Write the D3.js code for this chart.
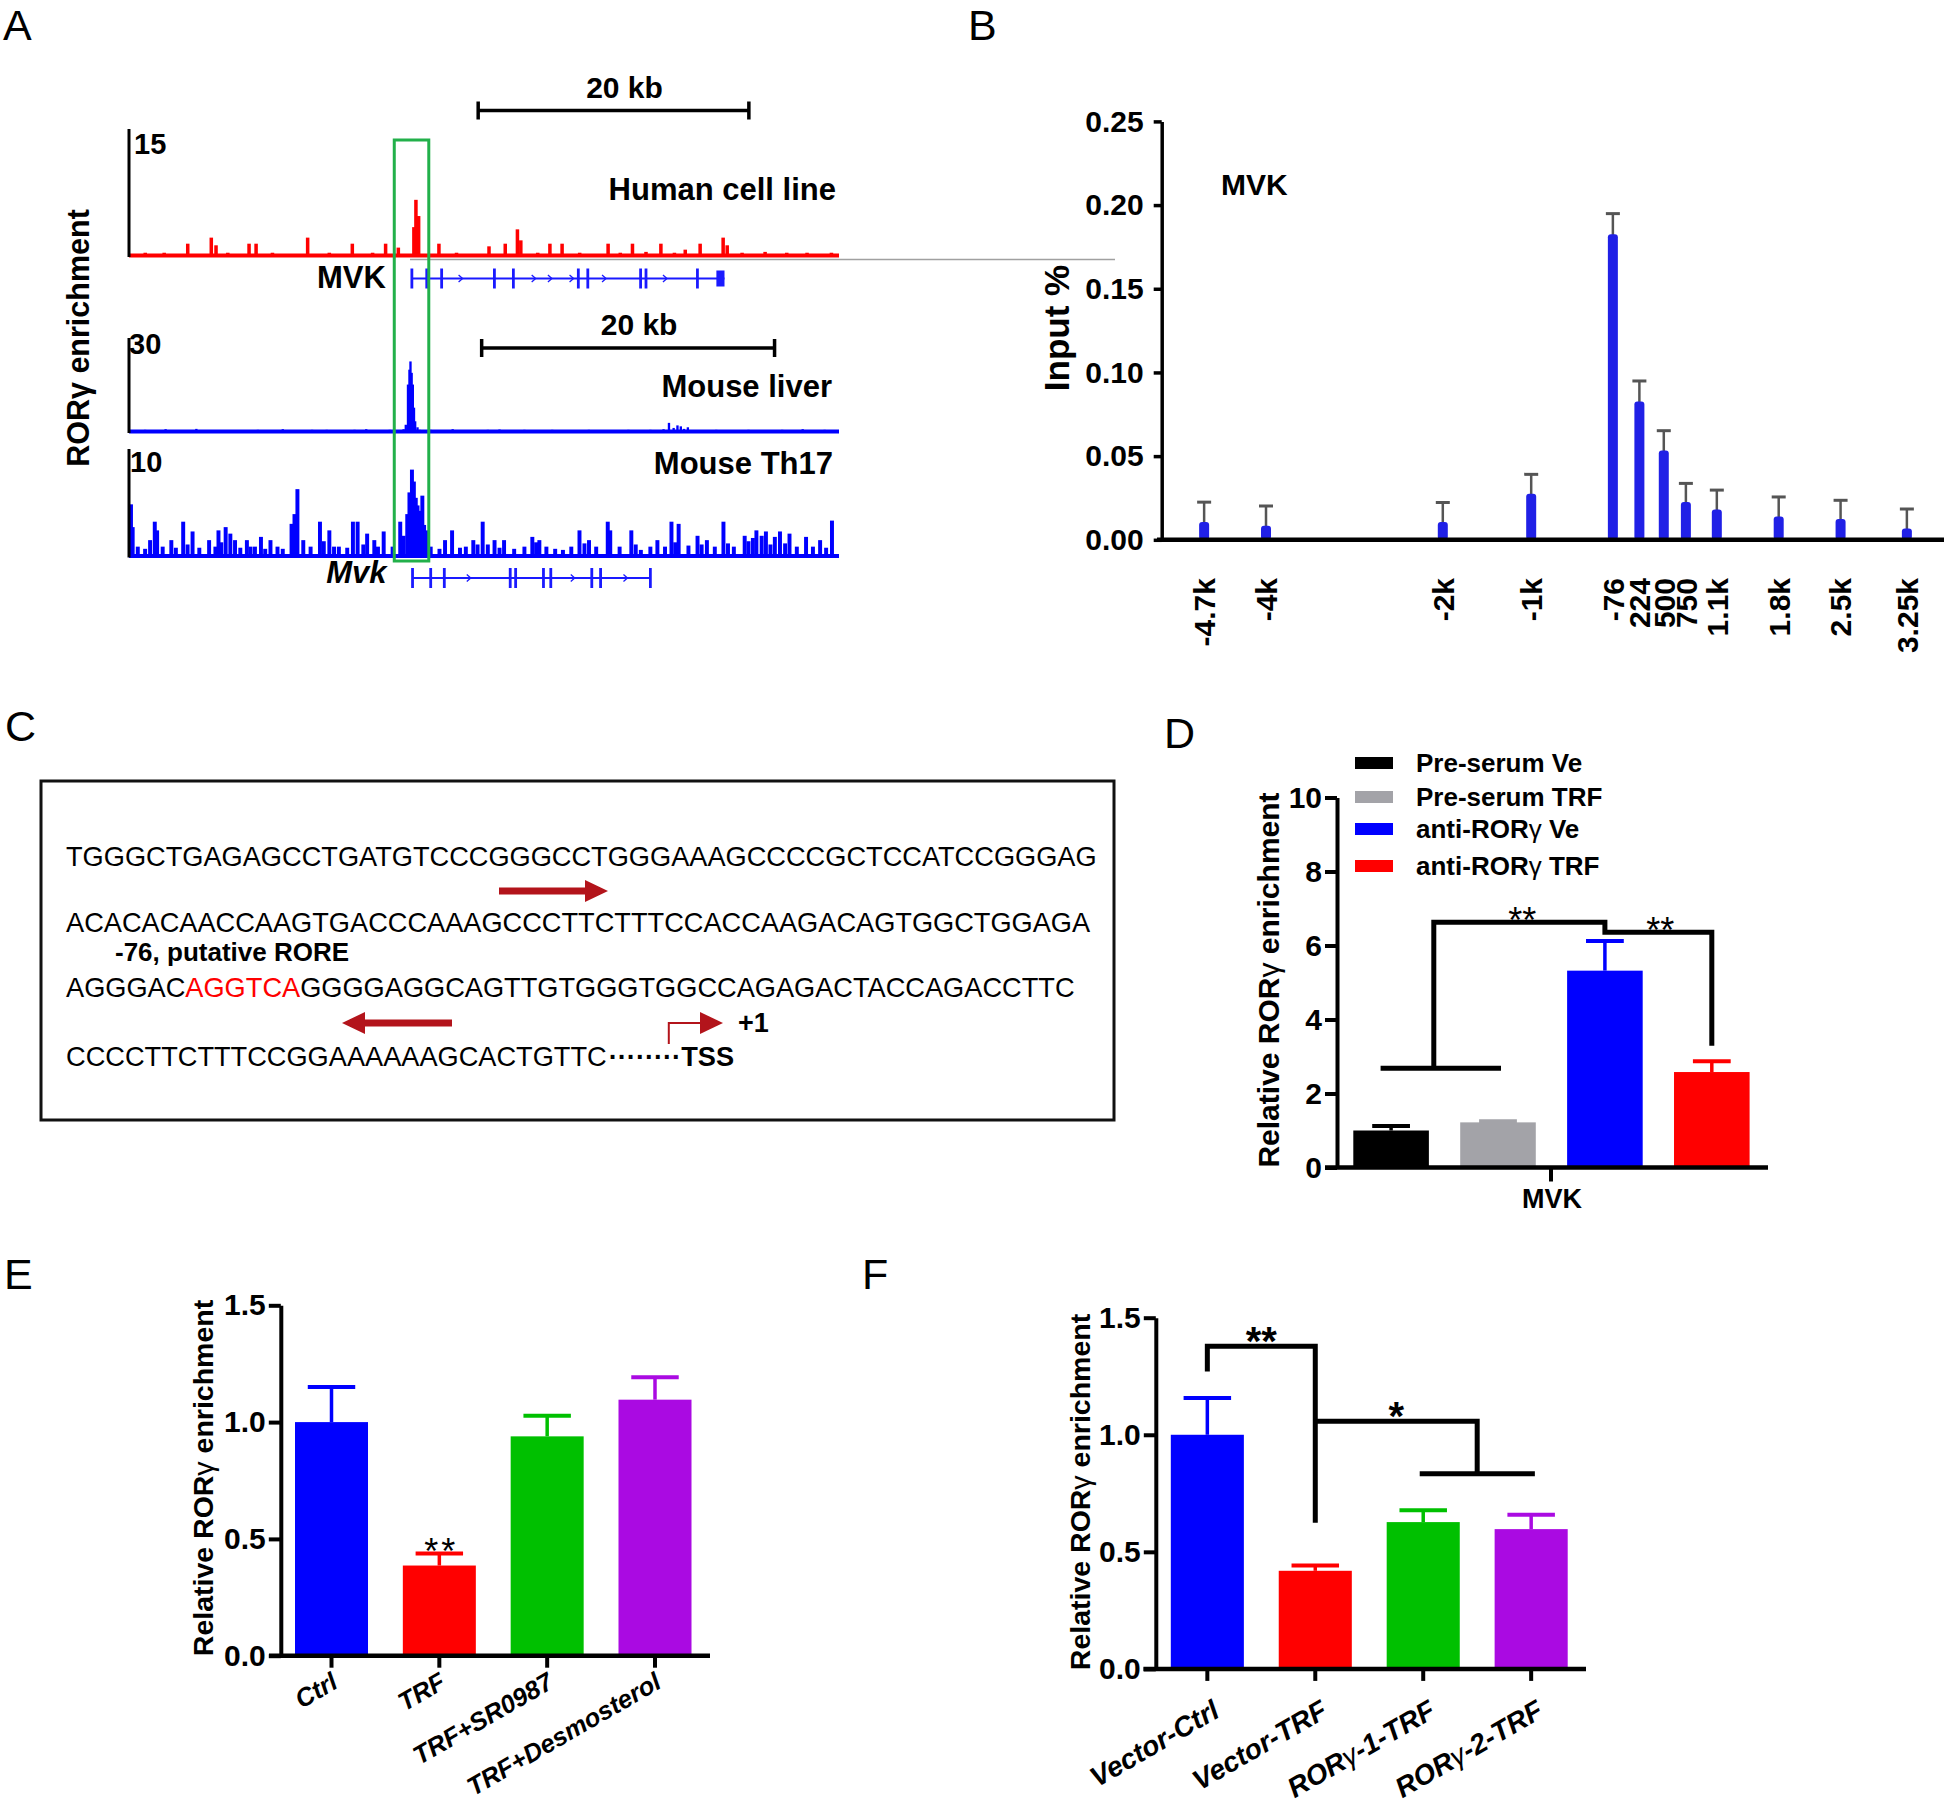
<!DOCTYPE html>
<html><head><meta charset="utf-8">
<script src="https://cdn.jsdelivr.net/npm/d3@7/dist/d3.min.js"></script>
<style>
html,body{margin:0;padding:0;background:#fff}
svg text{font-family:"Liberation Sans",Arial,Helvetica,sans-serif}
</style></head><body>
<svg id="fig" width="1946" height="1809" xmlns="http://www.w3.org/2000/svg"></svg>
<script>
// ================= DATA =================
// Panel A: ChIP-seq signal [position kb from left edge of window, signal]
const humanPeaks = [[1.2,0.5],[2.6,0.5],[4.34,1.56],[6.08,2.27],[6.43,1.37],[7.3,0.5],[8.87,1.56],[9.39,1.56],[10.6,0.5],[13.2,2.27],[14.8,0.5],[16.5,1.56],[18.0,0.5],[18.96,1.56],[19.9,1.1],[21.05,3.5],[21.2,6.7],[21.4,4.8],[22.9,1.56],[24.2,0.5],[26.6,1.25],[27.8,1.56],[28.7,3.24],[28.95,1.95],[30.2,0.5],[31.1,1.56],[32.0,1.56],[33.3,0.5],[35.4,1.56],[36.3,0.5],[37.2,1.56],[38.2,0.6],[39.3,1.56],[40.3,0.5],[41.1,0.86],[42.2,1.56],[43.9,2.27],[44.2,1.37],[45.3,0.5],[47.0,0.6],[48.6,0.5],[50.1,0.5],[51.9,0.5]];
const liverPeaks = [[0.5,0.9],[1.1,1.0],[1.9,0.8],[2.5,1.2],[3.2,0.8],[4.6,1.3],[6.3,0.9],[7.4,0.8],[8.8,1.0],[9.6,0.9],[10.5,1.2],[11.6,0.8],[12.5,1.0],[13.5,1.0],[14.0,0.8],[15.4,1.0],[16.2,1.2],[17.0,0.9],[17.8,1.0],[18.75,1.2],[18.9,2.6],[19.05,15.3],[19.15,20.0],[19.22,22.6],[19.3,19.0],[19.38,15.3],[19.46,8.0],[19.54,3.7],[19.7,1.8],[19.85,1.0],[20.6,1.0],[21.4,0.9],[22.1,1.2],[22.9,0.8],[24.5,1.0],[25.3,1.1],[26.2,0.8],[27.0,1.0],[28.0,0.8],[28.9,1.0],[30.5,0.9],[31.4,1.0],[33.0,0.8],[34.1,1.0],[35.0,0.9],[35.6,1.0],[36.5,1.2],[36.87,3.2],[37.19,1.6],[37.45,2.4],[37.68,2.1],[37.9,1.3],[38.16,1.8],[39.4,0.9],[40.1,1.0],[41.0,0.8],[42.3,1.0],[43.5,0.9],[44.6,1.0],[46.0,1.2],[46.9,0.8],[47.5,1.0]];
const th17Peaks = [[0.05,4.9],[0.25,2.8],[0.6,1.0],[1.1,0.8],[1.44,1.6],[1.76,3.3],[1.92,2.5],[2.3,1.0],[2.89,1.6],[3.2,0.9],[3.7,3.3],[4.0,1.2],[4.34,2.4],[4.8,0.9],[5.47,1.6],[5.9,1.0],[6.11,2.5],[6.3,1.4],[6.6,2.8],[6.92,2.2],[7.24,1.6],[7.6,0.9],[8.05,1.6],[8.3,1.0],[8.6,1.0],[9.01,1.9],[9.3,0.8],[9.66,1.6],[10.14,1.0],[10.5,0.8],[11.1,3.1],[11.3,4.0],[11.5,6.3],[11.9,1.6],[12.4,1.0],[13.04,3.3],[13.3,1.5],[13.68,2.5],[14.0,1.0],[14.33,1.0],[14.9,0.9],[15.29,3.3],[15.61,3.3],[16.0,1.2],[16.26,2.2],[16.75,1.6],[17.0,1.0],[17.39,2.4],[18.0,1.0],[18.52,3.3],[18.75,2.0],[19.0,4.0],[19.15,6.0],[19.32,8.1],[19.45,7.0],[19.58,5.5],[19.7,4.8],[19.81,4.3],[19.92,3.5],[20.03,5.7],[20.15,3.0],[20.29,2.5],[20.4,2.0],[20.6,1.0],[21.2,0.8],[21.58,1.6],[22.06,2.5],[22.6,0.9],[23.0,1.0],[23.51,1.6],[23.8,1.2],[24.15,3.3],[24.5,1.2],[24.96,1.6],[25.3,0.9],[25.61,1.6],[26.3,0.8],[27.0,1.0],[27.54,1.9],[27.8,1.4],[28.02,1.6],[28.5,1.0],[29.1,0.8],[29.63,0.7],[30.2,1.0],[30.76,2.5],[31.1,1.3],[31.41,1.6],[31.9,1.0],[32.69,3.3],[32.86,2.5],[33.5,1.0],[34.3,2.5],[34.6,1.2],[34.95,0.7],[35.6,1.0],[36.08,1.6],[36.6,1.0],[37.04,3.3],[37.3,1.4],[37.53,3.1],[38.2,1.1],[38.82,2.0],[39.1,1.2],[39.46,1.6],[40.0,1.0],[40.59,3.3],[40.9,1.3],[41.3,1.0],[42.04,2.0],[42.3,1.5],[42.6,1.8],[42.84,2.5],[43.2,2.0],[43.49,2.4],[43.8,1.2],[44.1,1.9],[44.45,2.4],[44.8,1.3],[45.1,2.2],[45.6,1.0],[46.23,1.9],[46.7,1.0],[47.19,1.6],[47.6,0.9],[48.0,3.4]];
const humanWindowKb = 52.46, mouseWindowKb = 48.48;
const trackMax = [15, 30, 10];
const trackLabels = ["Human cell line", "Mouse liver", "Mouse Th17"];
const scaleBarKb = 20;
const humanScaleBarStartKb = 25.8, mouseScaleBarStartKb = 24.08;
const humanGene = {name:"MVK", start:20.9, end:44.0, exons:[20.9,22.0,23.1,27.0,28.4,33.2,33.9,37.8,38.2,42.0], chevrons:[24.5,29.9,31.1,32.7,35.1,39.6], block:[43.4,44.0]};
const mouseGene = {name:"Mvk", start:19.36, end:35.6, exons:[19.36,20.6,21.53,26.03,26.4,28.3,28.8,31.6,32.2,35.6], chevrons:[23.2,30.3,33.9], block:null};
const boxKb = [19.6, 22.15];

// Panel B
const bPos    = [-4700,-4000,-2000,-1000,-76,224,500,750,1100,1800,2500,3250];
const bLabels = ["-4.7k","-4k","-2k","-1k","-76","224","500","750","1.1k","1.8k","2.5k","3.25k"];
const bMean   = [0.0094,0.0072,0.0094,0.0263,0.1814,0.0814,0.0522,0.0214,0.0169,0.0128,0.0112,0.0056];
const bSD     = [0.0131,0.0130,0.0129,0.0128,0.0135,0.0135,0.0130,0.0123,0.0128,0.0128,0.0124,0.0128];
const bTicks  = [0,0.05,0.10,0.15,0.20,0.25];

// Panel C
const seqLines = [
  [{t:"TGGGCTGAGAGCCTGATGTCCCGGGCCTGGGAAAGCCCCGCTCCATCCGGGAG"}],
  [{t:"ACACACAACCAAGTGACCCAAAGCCCTTCTTTCCACCAAGACAGTGGCTGGAGA"}],
  [{t:"AGGGAC"},{t:"AGGTCA",red:true},{t:"GGGGAGGCAGTTGTGGGTGGCCAGAGACTACCAGACCTTC"}],
  [{t:"CCCCTTCTTTCCGGAAAAAAGCACTGTTC"}]
];
const roreLabel = "-76, putative RORE";

// Panel D
const dGroups = ["Pre-serum Ve","Pre-serum TRF","anti-RORγ Ve","anti-RORγ TRF"];
const dMean   = [1.0, 1.22, 5.32, 2.58];
const dSD     = [0.12, 0.03, 0.80, 0.29];
const dColors = ["#000000","#a3a3a8","#0000ff","#ff0000"];
const dTicks  = [0,2,4,6,8,10];
const dBracket = [2.68, 6.63, 6.36, 3.29];

// Panel E
const eCats   = ["Ctrl","TRF","TRF+SR0987","TRF+Desmosterol"];
const eMean   = [1.0, 0.386, 0.939, 1.096];
const eSD     = [0.15, 0.051, 0.088, 0.096];
const barColors = ["#0000ff","#ff0000","#00c000","#aa0ae2"];
const efTicks = [0, 0.5, 1.0, 1.5];

// Panel F
const fCats   = ["Vector-Ctrl","Vector-TRF","RORγ-1-TRF","RORγ-2-TRF"];
const fMean   = [1.0, 0.419, 0.627, 0.597];
const fSD     = [0.157, 0.023, 0.051, 0.061];
const fBracket1 = [1.27, 1.378, 0.624];
const fBracket2 = [1.058, 0.834];

// ================= DRAW =================
const svg = d3.select("#fig");
svg.append("rect").attr("width",1946).attr("height",1809).attr("fill","#fff");
const FONT = '"Liberation Sans",Arial,Helvetica,sans-serif';

function gammaText(sel, str, gammaWeight) {
  const parts = str.split("γ");
  parts.forEach((p, i) => {
    if (p) sel.append("tspan").text(p);
    if (i < parts.length - 1) sel.append("tspan").attr("font-weight", gammaWeight || "normal").text("γ");
  });
  return sel;
}
function label(x, y, txt, size, opts) {
  opts = opts || {};
  const t = svg.append("text").attr("x", x).attr("y", y)
    .attr("font-size", size).attr("font-weight", opts.weight || "bold")
    .attr("text-anchor", opts.anchor || "start").attr("fill", opts.fill || "#000");
  if (opts.italic) t.attr("font-style", "italic");
  if (opts.spacing) t.attr("letter-spacing", opts.spacing);
  if (opts.transform) t.attr("transform", opts.transform);
  if (opts.gamma) gammaText(t, txt); else t.text(txt);
  return t;
}

// Panel letters
[["A",3,40],["B",968,40],["C",5,741],["D",1164,748],["E",4,1289],["F",862,1289]].forEach(d =>
  label(d[1], d[2], d[0], 43, {weight:"normal"}));

// ---------- Panel A ----------
const hx = d3.scaleLinear().domain([0, humanWindowKb]).range([129, 839]);
const mx = d3.scaleLinear().domain([0, mouseWindowKb]).range([129, 839]);
const trackY = [
  d3.scaleLinear().domain([0, trackMax[0]]).range([257, 129]),
  d3.scaleLinear().domain([0, trackMax[1]]).range([433, 338]),
  d3.scaleLinear().domain([0, trackMax[2]]).range([557.5, 449])
];
svg.append("line").attr("x1", 410).attr("x2", 1115).attr("y1", 259.5).attr("y2", 259.5)
  .attr("stroke", "#a0a0a0").attr("stroke-width", 1.5);

function drawTrack(xs, ys, peaks, w, color) {
  const base = ys(0);
  const x0 = xs.range()[0];
  svg.append("g").selectAll("rect").data(peaks).join("rect")
    .attr("x", d => Math.max(x0, xs(d[0] - w/2)))
    .attr("width", xs(w) - xs(0))
    .attr("y", d => ys(d[1])).attr("height", d => base - ys(d[1]))
    .attr("fill", color);
  svg.append("rect").attr("x", x0).attr("width", xs.range()[1] - x0)
    .attr("y", base - 3.5).attr("height", 4).attr("fill", color);
  svg.append("line").attr("x1", x0).attr("x2", x0).attr("y1", ys(ys.domain()[1])).attr("y2", base)
    .attr("stroke", "#000").attr("stroke-width", 3);
}
drawTrack(hx, trackY[0], humanPeaks, 0.26, "#ff0000");
drawTrack(mx, trackY[1], liverPeaks, 0.16, "#0000ff");
drawTrack(mx, trackY[2], th17Peaks, 0.27, "#0000ff");

label(134, 154, String(trackMax[0]), 29);
label(129, 354, String(trackMax[1]), 29);
label(130, 472, String(trackMax[2]), 29);
label(836, 200, trackLabels[0], 31, {anchor:"end"});
label(832, 397, trackLabels[1], 31, {anchor:"end"});
label(833, 474, trackLabels[2], 31, {anchor:"end"});

function scaleBar(xs, startKb, y) {
  const x1 = xs(startKb), x2 = xs(startKb + scaleBarKb);
  const g = svg.append("g").attr("stroke", "#000").attr("stroke-width", 3.5);
  g.append("line").attr("x1", x1).attr("x2", x2).attr("y1", y).attr("y2", y);
  g.append("line").attr("x1", x1).attr("x2", x1).attr("y1", y - 9).attr("y2", y + 9);
  g.append("line").attr("x1", x2).attr("x2", x2).attr("y1", y - 9).attr("y2", y + 9);
  label((x1 + x2) / 2 + 11, y - 13, scaleBarKb + " kb", 30, {anchor:"middle"});
}
scaleBar(hx, humanScaleBarStartKb, 110.5);
scaleBar(mx, mouseScaleBarStartKb, 348);

function drawGene(xs, y, gene, italic, labelY) {
  const col = "#1a1aff";
  const g = svg.append("g").attr("stroke", col);
  g.append("line").attr("x1", xs(gene.start)).attr("x2", xs(gene.end)).attr("y1", y).attr("y2", y).attr("stroke-width", 2);
  g.selectAll(".ex").data(gene.exons).join("line")
    .attr("x1", d => xs(d)).attr("x2", d => xs(d)).attr("y1", y - 10).attr("y2", y + 10).attr("stroke-width", 2.8);
  g.selectAll(".ch").data(gene.chevrons).join("path")
    .attr("d", d => `M${xs(d) - 2},${y - 3.5}L${xs(d) + 2},${y}L${xs(d) - 2},${y + 3.5}`)
    .attr("fill", "none").attr("stroke-width", 1.3);
  if (gene.block) svg.append("rect").attr("x", xs(gene.block[0])).attr("width", xs(gene.block[1]) - xs(gene.block[0]))
    .attr("y", y - 8).attr("height", 16).attr("fill", col);
  label(xs(gene.start) - 26, labelY, gene.name, 31, {anchor:"end", italic: italic});
}
drawGene(hx, 278.5, humanGene, false, 288);
drawGene(mx, 578, mouseGene, true, 583);

svg.append("rect").attr("x", hx(boxKb[0])).attr("width", hx(boxKb[1]) - hx(boxKb[0]))
  .attr("y", 140).attr("height", 421).attr("fill", "none").attr("stroke", "#22b04a").attr("stroke-width", 3);

label(0, 0, "RORγ enrichment", 30.5, {anchor:"middle", transform:"translate(89,338) rotate(-90)"});

// ---------- Panel B ----------
const bx = d3.scaleLinear().domain([-5180, 3670]).range([1161.7, 1944]);
const by = d3.scaleLinear().domain([0, 0.25]).range([539.8, 121.4]);
const bG = svg.append("g");
bG.selectAll(".eb").data(bPos).join("g").each(function(p, i) {
  const g = d3.select(this), x = bx(p);
  g.append("line").attr("x1", x).attr("x2", x).attr("y1", by(bMean[i])).attr("y2", by(bMean[i] + bSD[i]))
    .attr("stroke", "#555").attr("stroke-width", 2.5);
  g.append("line").attr("x1", x - 7).attr("x2", x + 7).attr("y1", by(bMean[i] + bSD[i])).attr("y2", by(bMean[i] + bSD[i]))
    .attr("stroke", "#555").attr("stroke-width", 3);
});
bG.selectAll("rect").data(bPos).join("rect")
  .attr("x", p => bx(p) - 5).attr("width", 10)
  .attr("y", (p, i) => by(bMean[i]) - 2).attr("height", (p, i) => by(0) - by(bMean[i]) + 2)
  .attr("rx", 3).attr("fill", "#2020e6");
const bAxis = svg.append("g").attr("transform", "translate(1161.7,0)")
  .call(d3.axisLeft(by).tickValues(bTicks).tickFormat(d3.format(".2f")).tickSize(8).tickSizeOuter(0).tickPadding(10));
bAxis.selectAll("path,line").attr("stroke", "#000").attr("stroke-width", 3.5);
bAxis.selectAll("text").attr("font-size", 30).attr("font-weight", "bold").attr("font-family", FONT).attr("fill", "#000");
svg.append("line").attr("x1", 1157).attr("x2", 1944).attr("y1", by(0)).attr("y2", by(0)).attr("stroke", "#000").attr("stroke-width", 4.5);
svg.append("g").selectAll("text").data(bPos).join("text")
  .attr("transform", p => `translate(${bx(p)},578) rotate(-90)`)
  .attr("text-anchor", "end").attr("dy", "0.36em")
  .attr("font-size", 30).attr("font-weight", "bold").text((p, i) => bLabels[i]);
label(1221, 195, "MVK", 30);
label(0, 0, "Input %", 35, {anchor:"middle", transform:"translate(1069,328) rotate(-90)"});

// ---------- Panel C ----------
svg.append("rect").attr("x", 41).attr("y", 781).attr("width", 1073).attr("height", 339)
  .attr("fill", "none").attr("stroke", "#111").attr("stroke-width", 3);
const seqY = [866, 931.5, 997, 1065.5];
seqLines.forEach((line, i) => {
  const t = svg.append("text").attr("x", 66).attr("y", seqY[i]).attr("font-size", 27.2);
  line.forEach(seg => t.append("tspan").attr("fill", seg.red ? "#ff0000" : "#000").text(seg.t));
  if (i === 3) {
    t.append("tspan").attr("font-weight", "bold").attr("dx", 2).text("\u00B7\u00B7\u00B7\u00B7\u00B7\u00B7\u00B7\u00B7");
    t.append("tspan").attr("font-weight", "bold").text("TSS");
  }
});
label(115, 961, roreLabel, 26);
const arrowCol = "#b3141b";
function arrow(xTail, xTip, y) {
  const dir = xTip > xTail ? 1 : -1, headL = 23, headH = 11, shaft = 3.4;
  const xb = xTip - dir * headL;
  svg.append("path").attr("fill", arrowCol)
    .attr("d", `M${xTail},${y - shaft}L${xb},${y - shaft}L${xb},${y - headH}L${xTip},${y}L${xb},${y + headH}L${xb},${y + shaft}L${xTail},${y + shaft}Z`);
}
arrow(499, 608, 891);
arrow(452, 342, 1023);
svg.append("path").attr("d", "M668.8,1044V1023H702").attr("fill", "none").attr("stroke", arrowCol).attr("stroke-width", 2);
svg.append("path").attr("fill", arrowCol).attr("d", "M700,1012L723,1023L700,1034Z");
label(738, 1032, "+1", 27);

// ---------- shared bar-chart helpers ----------
function yAxis(scale, x, ticks, fmt, size) {
  const a = svg.append("g").attr("transform", `translate(${x},0)`)
    .call(d3.axisLeft(scale).tickValues(ticks).tickFormat(fmt).tickSize(12).tickSizeOuter(0).tickPadding(3));
  a.selectAll("path,line").attr("stroke", "#000").attr("stroke-width", 4);
  a.selectAll("text").attr("font-size", size).attr("font-weight", "bold").attr("font-family", FONT).attr("fill", "#000");
}
function bars(xs, ys, cats, mean, sd, colors, capFrac) {
  const g = svg.append("g");
  cats.forEach((c, i) => {
    const x = xs(c), w = xs.bandwidth(), cx = x + w / 2, top = ys(mean[i] + sd[i]);
    g.append("line").attr("x1", cx).attr("x2", cx).attr("y1", ys(mean[i])).attr("y2", top).attr("stroke", colors[i]).attr("stroke-width", 3.5);
    g.append("line").attr("x1", cx - w * capFrac / 2).attr("x2", cx + w * capFrac / 2).attr("y1", top).attr("y2", top).attr("stroke", colors[i]).attr("stroke-width", 4);
    g.append("rect").attr("x", x).attr("width", w).attr("y", ys(mean[i])).attr("height", ys(0) - ys(mean[i])).attr("fill", colors[i]);
  });
}

// ---------- Panel D ----------
const dx = d3.scaleBand().domain(dGroups).range([1353.3, 1749.6]).paddingInner(0.293).paddingOuter(0);
const dy = d3.scaleLinear().domain([0, 10]).range([1167.5, 797.5]);
const dc = g => dx(g) + dx.bandwidth() / 2;
bars(dx, dy, dGroups, dMean, dSD, dColors, 0.5);
yAxis(dy, 1337, dTicks, d3.format("d"), 30);
svg.append("line").attr("x1", 1325).attr("x2", 1768).attr("y1", dy(0)).attr("y2", dy(0)).attr("stroke", "#000").attr("stroke-width", 4.5);
svg.append("line").attr("x1", 1551).attr("x2", 1551).attr("y1", dy(0)).attr("y2", dy(0) + 14).attr("stroke", "#000").attr("stroke-width", 4);
label(1552, 1208, "MVK", 27, {anchor:"middle"});
label(0, 0, "Relative RORγ enrichment", 30, {anchor:"middle", gamma:true, transform:"translate(1279,980) rotate(-90)"});
const legY = [763, 797, 829, 866];
dGroups.forEach((gname, i) => {
  svg.append("rect").attr("x", 1355).attr("y", legY[i] - 6).attr("width", 38).attr("height", 12).attr("fill", dColors[i]);
  label(1416, legY[i] + 9, gname, 26, {gamma:true});
});
{
  const xl = dc(dGroups[0]) - 10.5, xr = dc(dGroups[1]) + 3, xm = (xl + xr) / 2 - 7;
  svg.append("path").attr("fill", "none").attr("stroke", "#000").attr("stroke-width", 5)
    .attr("d", `M${xl},${dy(dBracket[0])}H${xr}M${xm},${dy(dBracket[0])}V${dy(dBracket[1])}H${dc(dGroups[2])}V${dy(dBracket[2])}H${dc(dGroups[3])}V${dy(dBracket[3])}`);
  label((xm + dc(dGroups[2])) / 2 + 3, dy(dBracket[1]) + 11, "**", 36, {anchor:"middle", weight:"normal"});
  label((dc(dGroups[2]) + dc(dGroups[3])) / 2 + 2, dy(dBracket[2]) + 11, "**", 36, {anchor:"middle", weight:"normal"});
}

// ---------- Panel E ----------
const ex = d3.scaleBand().domain(eCats).range([295, 691.5]).paddingInner(0.323).paddingOuter(0);
const ey = d3.scaleLinear().domain([0, 1.5]).range([1655.7, 1305.3]);
const ec = c => ex(c) + ex.bandwidth() / 2;
bars(ex, ey, eCats, eMean, eSD, barColors, 0.65);
yAxis(ey, 280.8, efTicks, d3.format(".1f"), 30);
svg.append("line").attr("x1", 269).attr("x2", 710).attr("y1", ey(0)).attr("y2", ey(0)).attr("stroke", "#000").attr("stroke-width", 4.5);
eCats.forEach(c => {
  svg.append("line").attr("x1", ec(c)).attr("x2", ec(c)).attr("y1", ey(0)).attr("y2", ey(0) + 12).attr("stroke", "#000").attr("stroke-width", 4);
  label(0, 0, c, 25.5, {anchor:"end", italic:true, transform:`translate(${ec(c) + 8},1687) rotate(-30)`});
});
label(ec(eCats[1]) + 2, ey(eMean[1] + eSD[1]) + 10, "**", 36, {anchor:"middle", weight:"normal", spacing:3});
label(0, 0, "Relative RORγ enrichment", 28.5, {anchor:"middle", gamma:true, transform:"translate(213,1478) rotate(-90)"});

// ---------- Panel F ----------
const fx = d3.scaleBand().domain(fCats).range([1170.8, 1567.7]).paddingInner(0.323).paddingOuter(0);
const fy = d3.scaleLinear().domain([0, 1.5]).range([1668.9, 1317.7]);
const fc = c => fx(c) + fx.bandwidth() / 2;
bars(fx, fy, fCats, fMean, fSD, barColors, 0.65);
yAxis(fy, 1155.8, efTicks, d3.format(".1f"), 30);
svg.append("line").attr("x1", 1143.4).attr("x2", 1586).attr("y1", fy(0)).attr("y2", fy(0)).attr("stroke", "#000").attr("stroke-width", 4.5);
fCats.forEach(c => {
  svg.append("line").attr("x1", fc(c)).attr("x2", fc(c)).attr("y1", fy(0)).attr("y2", fy(0) + 12).attr("stroke", "#000").attr("stroke-width", 4);
  label(0, 0, c, 28, {anchor:"end", italic:true, gamma:true, transform:`translate(${fc(c) + 14},1716) rotate(-30)`});
});
{
  const c0 = fc(fCats[0]), c1 = fc(fCats[1]), c2 = fc(fCats[2]), c3 = fc(fCats[3]), cm = (c2 + c3) / 2;
  svg.append("path").attr("fill", "none").attr("stroke", "#000").attr("stroke-width", 5)
    .attr("d", `M${c0},${fy(fBracket1[0])}V${fy(fBracket1[1])}H${c1}V${fy(fBracket1[2])}` +
               `M${c1},${fy(fBracket2[0])}H${cm}V${fy(fBracket2[1])}M${c2 - 3.5},${fy(fBracket2[1])}H${c3 + 3.7}`);
  label((c0 + c1) / 2, fy(fBracket1[1]) + 9, "**", 40, {anchor:"middle", weight:"bold"});
  label((c1 + cm) / 2, fy(fBracket2[0]) + 9, "*", 40, {anchor:"middle", weight:"bold"});
}
label(0, 0, "Relative RORγ enrichment", 28.5, {anchor:"middle", gamma:true, transform:"translate(1090,1492) rotate(-90)"});
</script>
</body></html>
